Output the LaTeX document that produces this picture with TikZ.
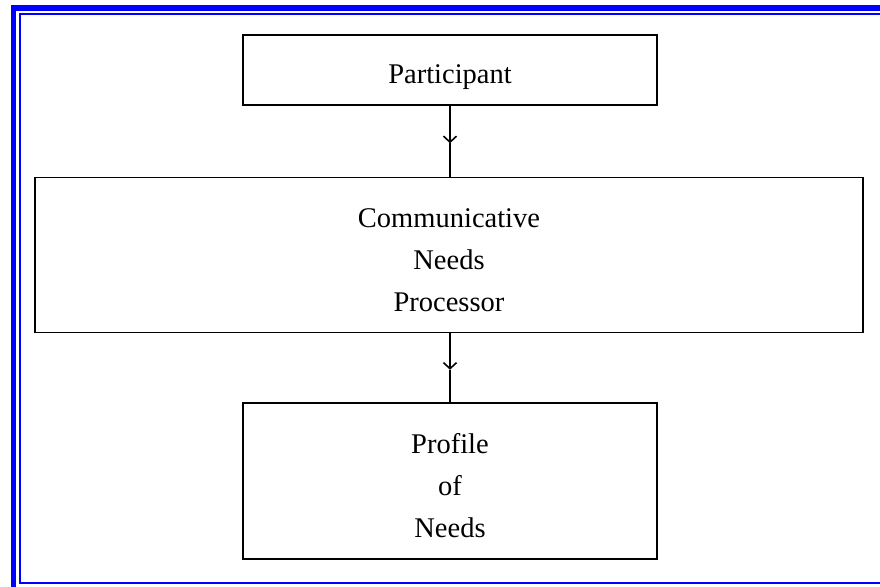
\documentclass[tikz,border=0pt]{standalone}
\usepackage{fontspec}
\setmainfont{Liberation Serif}
\usepackage{tikz}
\usetikzlibrary{arrows.meta,calc,positioning}

\tikzset{
  stage/.style={draw, line width=1.8pt, align=center, inner sep=0pt,
    text depth=0pt, font=\fontsize{28.5}{42}\selectfont},
}

\begin{document}
\begin{tikzpicture}[>={Straight Barb[length=6pt,width=13pt]}, x=1pt, y=-1pt]
  \useasboundingbox (0,0) rectangle (880,586);
  \clip (0,0) rectangle (880,586);

  % blue frame (runs off the right and bottom edges)
  \draw[blue, line width=5.8pt] (13.5,7.9) rectangle (1000,700);
  \draw[blue, line width=2pt] (20,14) rectangle (1000,583.3);

  \node[stage, text height=26pt, minimum width=414pt, minimum height=70pt]
    (part) at (450,70) {Participant};
  \node[stage, text height=113pt, minimum width=828pt, minimum height=155pt]
    (cnp) at (449,255) {Communicative\\Needs\\Processor};
  \node[stage, text height=113pt, minimum width=414pt, minimum height=156pt]
    (prof) at (450,481) {Profile\\of\\Needs};

  % arrow tips sit halfway along the links
  \coordinate (t1) at (part.south |- cnp.north);
  \coordinate (s2) at (prof.north |- cnp.south);
  \coordinate (m1) at ($(part.south)!0.5!(t1)+(0,2)$);
  \coordinate (m2) at ($(s2)!0.5!(prof.north)+(0,2)$);
  \draw[line width=1.6pt,->] (part.south) -- (m1);
  \draw[line width=1.6pt] (m1) -- (t1);
  \draw[line width=1.6pt,->] (s2) -- (m2);
  \draw[line width=1.6pt] (m2) -- (prof.north);
\end{tikzpicture}
\end{document}
